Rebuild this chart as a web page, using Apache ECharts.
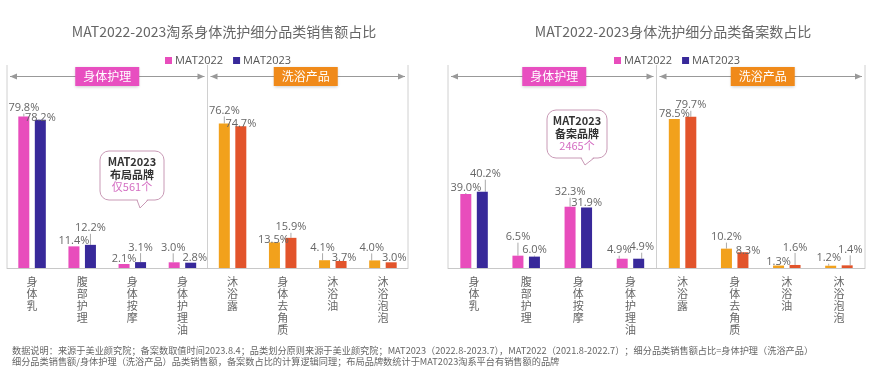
<!DOCTYPE html>
<html><head><meta charset="utf-8">
<script src="https://cdn.jsdelivr.net/npm/echarts@6/dist/echarts.min.js"></script>
<style>html,body{margin:0;padding:0;background:#fff}#c{width:877px;height:382px}</style>
</head><body><div id="c"></div>
<script>
// ---- data ----
const categories = ['身体乳','腹部护理','身体按摩','身体护理油','沐浴露','身体去角质','沐浴油','沐浴泡泡'];
const seriesNames = ['MAT2022','MAT2023'];
const salesShare2022 = [79.8, 11.4, 2.1, 3.0, 76.2, 13.5, 4.1, 4.0];
const salesShare2023 = [78.2, 12.2, 3.1, 2.8, 74.7, 15.9, 3.7, 3.0];
const filingShare2022 = [39.0, 6.5, 32.3, 4.9, 78.5, 10.2, 1.3, 1.2];
const filingShare2023 = [40.2, 6.0, 31.9, 4.9, 79.7, 8.3, 1.6, 1.4];
const titles = ['MAT2022-2023淘系身体洗护细分品类销售额占比', 'MAT2022-2023身体洗护细分品类备案数占比'];
const groupNames = ['身体护理', '洗浴产品'];
const calloutTexts = [['MAT2023', '布局品牌', '仅561个'], ['MAT2023', '备案品牌', '2465个']];
const footerLines = [
  '数据说明：来源于美业颜究院；备案数取值时间2023.8.4；品类划分原则来源于美业颜究院；MAT2023（2022.8-2023.7），MAT2022（2021.8-2022.7）；细分品类销售额占比=身体护理（洗浴产品）',
  '细分品类销售额/身体护理（洗浴产品）品类销售额，备案数占比的计算逻辑同理；布局品牌数统计于MAT2023淘系平台有销售额的品牌'
];

// ---- style / layout ----
const PINK = '#E84DBC', NAVY = '#38299A', ORANGE = '#F2A11C', RED = '#E2542B';
const GREY_TXT = '#666';
const grids = [{left: 7, top: 65, width: 401, height: 203}, {left: 448, top: 65, width: 417, height: 203}];
// label nudges [dx, dy] per chart / series / item (style only)
const nudges = [
  [[[0,0],[0,3],[0,3],[-1,-6],[0,-4],[-1,6],[-2,-4],[-3,-4]],
   [[0,7],[0,-8],[0,-6],[4,4],[0,6],[0,-2],[3,5],[3,4]]],
  [[[0,2],[0,-10],[0,-6],[-3,0],[0,3],[0,-3],[0,5],[-2,1]],
   [[3,-9],[0,2],[0,4],[3,-3],[0,-3],[5,7],[0,-9],[3,-7]]]
];

const chart = echarts.init(document.getElementById('c'), null, {renderer: 'canvas'});
const dataSets = [[salesShare2022, salesShare2023], [filingShare2022, filingShare2023]];

const series = [];
dataSets.forEach((pair, gi) => {
  pair.forEach((vals, si) => {
    const base = si === 0 ? PINK : NAVY;
    const alt = si === 0 ? ORANGE : RED;
    series.push({
      name: seriesNames[si], type: 'bar', xAxisIndex: gi, yAxisIndex: gi,
      barWidth: 11, barGap: '50%',
      itemStyle: {color: base},
      data: vals.map((v, i) => ({value: v, itemStyle: {color: i < 4 ? base : alt}})),
      label: {show: true, position: 'top', distance: 3, fontSize: 11, color: GREY_TXT,
        fontFamily: 'Open Sans, Noto Sans CJK SC', formatter: p => p.value.toFixed(1) + '%'},
      labelLine: {show: true, lineStyle: {color: '#aaa', width: 1}, length2: 0},
      labelLayout: p => { const n = nudges[gi][si][p.dataIndex]; return {dx: n[0], dy: n[1]}; }
    });
  });
});

const graphic = [];
grids.forEach((g, gi) => {
  const x0 = g.left, x2 = g.left + g.width, x1 = g.left + g.width / 2;
  const yTop = g.top, yBot = g.top + g.height;
  [x0, x1, x2].forEach(x => graphic.push({type: 'line', silent: true,
    shape: {x1: x, y1: yTop, x2: x, y2: yBot}, style: {stroke: '#d0d0d0', lineWidth: 1}}));
  const ay = 76.5;
  [[x0, x1], [x1, x2]].forEach((seg, k) => {
    const a = seg[0] + 3, b = seg[1] - 3;
    graphic.push({type: 'line', silent: true, shape: {x1: a, y1: ay, x2: b, y2: ay}, style: {stroke: '#999', lineWidth: 1}});
    graphic.push({type: 'polygon', silent: true, shape: {points: [[a, ay], [a + 7, ay - 3], [a + 7, ay + 3]]}, style: {fill: '#999'}});
    graphic.push({type: 'polygon', silent: true, shape: {points: [[b, ay], [b - 7, ay - 3], [b - 7, ay + 3]]}, style: {fill: '#999'}});
    const cx = (seg[0] + seg[1]) / 2 + (gi === 1 ? 2 : 0) - (gi === 0 && k === 1 ? 2 : 0);
    graphic.push({type: 'rect', silent: true, shape: {x: cx - 32, y: 67, width: 64, height: 19},
      style: {fill: k === 0 ? '#E84FC0' : '#F08A1A', shadowBlur: 3, shadowColor: 'rgba(0,0,0,0.2)', shadowOffsetY: 1}});
    graphic.push({type: 'text', silent: true, x: cx, y: 76.5,
      style: {text: groupNames[k], fill: '#fff', fontSize: 12, align: 'center', verticalAlign: 'middle', fontFamily: 'Noto Sans CJK SC'}});
  });
});

// callouts
const callouts = [{x: 100, y: 151, w: 64, h: 49, px1: 137, tipX: 140, tipY: 208, px2: 148},
                  {x: 547, y: 110, w: 60, h: 48, px1: 581, tipX: 585, tipY: 165, px2: 594}];
callouts.forEach((c, ci) => {
  graphic.push({type: 'rect', silent: true, shape: {x: c.x, y: c.y, width: c.w, height: c.h, r: 9},
    style: {fill: '#fff', stroke: '#C99AB6', lineWidth: 1}});
  graphic.push({type: 'polygon', silent: true, shape: {points: [[c.px1 + 0.5, c.y + c.h - 1], [c.tipX, c.tipY], [c.px2 - 0.5, c.y + c.h - 1]]},
    style: {fill: '#fff'}});
  graphic.push({type: 'polyline', silent: true, shape: {points: [[c.px1, c.y + c.h], [c.tipX, c.tipY], [c.px2, c.y + c.h]]},
    style: {stroke: '#C99AB6', lineWidth: 1, fill: null}});
  const cx = c.x + c.w / 2;
  const t = calloutTexts[ci];
  [0, 1, 2].forEach(j => graphic.push({type: 'text', silent: true, x: cx, y: c.y + 11 + j * 12.5,
    style: {text: t[j], fill: j < 2 ? '#333' : '#D46EC2', fontSize: 11, fontWeight: j < 2 ? 'bold' : 'normal',
      align: 'center', verticalAlign: 'middle', fontFamily: 'Noto Sans CJK SC'}}));
});

footerLines.forEach((t, i) => graphic.push({type: 'text', silent: true, x: 12, y: 351 + i * 11,
  style: {text: t, fill: GREY_TXT, fontSize: 9.2, verticalAlign: 'middle', fontFamily: 'Noto Sans CJK SC'}}));

const legendText = {fontSize: 11, color: '#555', fontFamily: 'Open Sans', padding: [0, 0, 0, -2]};
const option = {
  backgroundColor: '#fff',
  animation: false,
  title: [
    {text: titles[0], left: 219, top: 20, textAlign: 'center',
     textStyle: {fontSize: 14, fontWeight: 'normal', color: '#666', fontFamily: 'Noto Sans CJK SC'}},
    {text: titles[1], left: 668, top: 20, textAlign: 'center',
     textStyle: {fontSize: 14, fontWeight: 'normal', color: '#666', fontFamily: 'Noto Sans CJK SC'}}
  ],
  legend: [
    {data: seriesNames, left: 160, top: 50, icon: 'rect', itemWidth: 7, itemHeight: 7, itemGap: 10, textStyle: legendText},
    {data: seriesNames, left: 609, top: 50, icon: 'rect', itemWidth: 7, itemHeight: 7, itemGap: 10, textStyle: legendText}
  ],
  grid: grids,
  xAxis: grids.map((g, gi) => ({
    type: 'category', gridIndex: gi, data: categories,
    axisLine: {lineStyle: {color: '#c8c8c8'}}, axisTick: {show: false},
    axisLabel: {interval: 0, formatter: v => v.split('').join('\n'), fontSize: 11, lineHeight: 12,
      color: GREY_TXT, margin: 8, fontFamily: 'Noto Sans CJK SC'}
  })),
  yAxis: grids.map((g, gi) => ({type: 'value', gridIndex: gi, min: 0, max: 107, show: false, splitLine: {show: false}})),
  series: series,
  graphic: graphic
};
chart.setOption(option);
</script></body></html>
